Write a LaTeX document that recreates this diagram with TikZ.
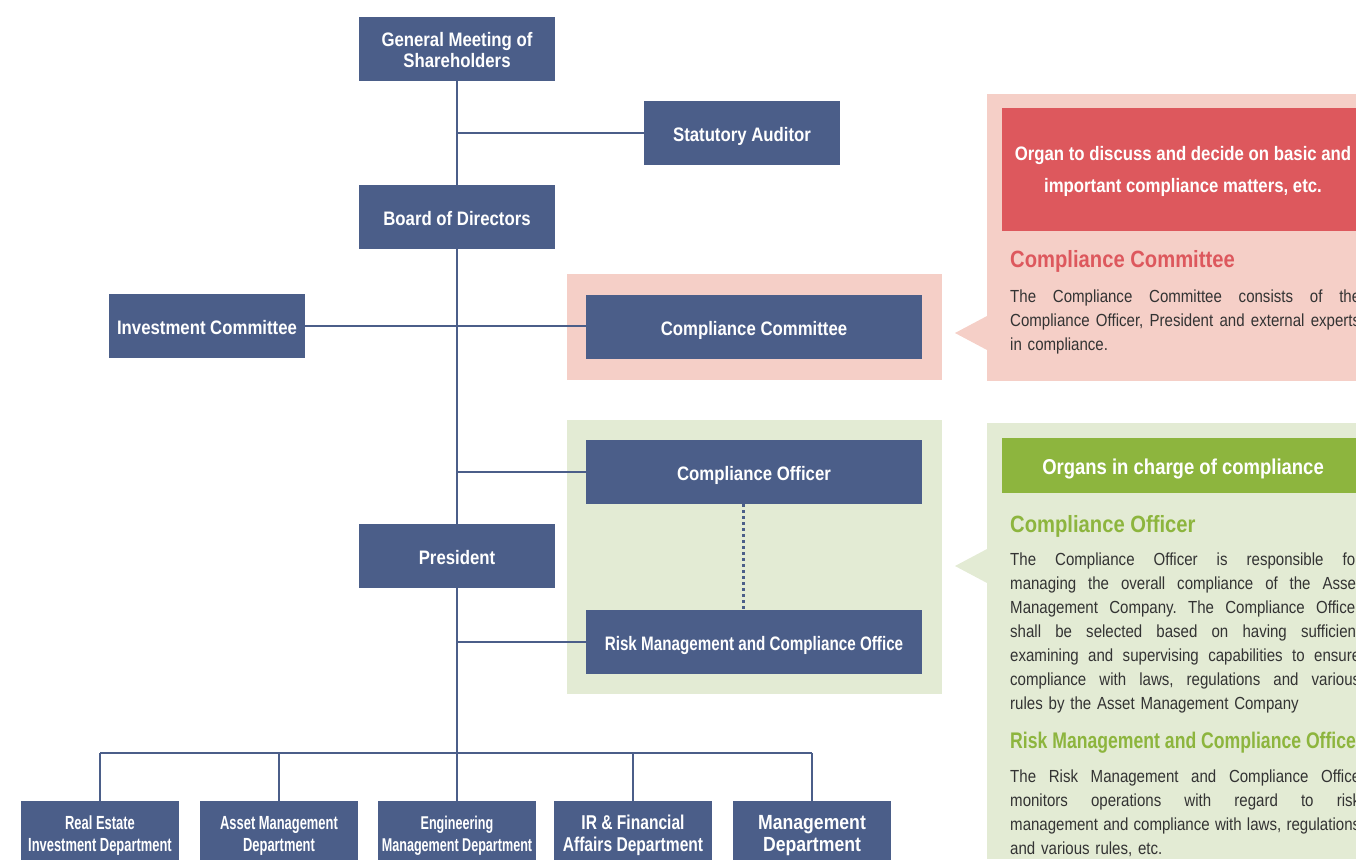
\documentclass[tikz,border=0pt]{standalone}
\usepackage{fontspec}
\setmainfont{Liberation Sans}[FakeStretch=0.86]
\newfontfamily\narrowfont{Liberation Sans}[FakeStretch=0.68]
\newfontfamily\midfont{Liberation Sans}[FakeStretch=0.78]
\usepackage{xcolor}
\usepackage{tikz}
\usetikzlibrary{positioning}

\definecolor{orgblue}{HTML}{4B5E89}
\definecolor{ccpink}{HTML}{F5CFC7}
\definecolor{ccred}{HTML}{DD585D}
\definecolor{cogreen}{HTML}{8DB53E}
\definecolor{colight}{HTML}{E3EBD4}
\definecolor{bodygray}{HTML}{333333}

\def\bodywd{350pt}
\newcommand{\jline}[1]{\leavevmode\hbox to \bodywd{\frenchspacing\spaceskip=0.25em plus 1fil minus 0.08em\relax #1}\\}

\tikzset{
	orgbox/.style={fill=orgblue, text=white, font=\fontsize{19.5}{21}\selectfont\bfseries,
		minimum width=196pt, minimum height=64pt, inner sep=0pt, align=center,
		text height=17pt, text depth=0pt},
	twoline/.style={text height=37pt},
	widebox/.style={orgbox, minimum width=336pt},
	deptbox/.style={orgbox, minimum width=158pt, text height=36pt,
		font=\narrowfont\fontsize{19}{22}\selectfont\bfseries},
	orgline/.style={draw=orgblue, line width=2pt},
	headline/.style={font=\fontsize{23.5}{26}\selectfont\bfseries, anchor=base west, inner sep=0pt},
	bodytext/.style={text=bodygray, font=\fontsize{17.5}{24}\selectfont, anchor=north west,
		inner sep=0pt, align=left, text width=\bodywd},
}

\begin{document}
\begin{tikzpicture}[x=1pt, y=-1pt]
			\useasboundingbox (0,0) rectangle (1356,859);
			\clip (0,0) rectangle (1356,859);
			
			% backgrounds behind the compliance boxes
			\fill [ccpink] (567,274) rectangle (942,380);
			\fill [colight] (567,420) rectangle (942,694);
			
			\node [orgbox, twoline] (gm) at (457,49) {General Meeting of\\Shareholders};
			\node [orgbox] (sa) at (742,133) {Statutory Auditor};
			\node [orgbox] (bd) at (457,217) {Board of Directors};
			\node [orgbox] (ic) at (207,326) {Investment Committee};
			\node [widebox] (cc) at (754,327) {Compliance Committee};
			\node [widebox] (co) at (754,472) {Compliance Officer};
			\node [orgbox] (pr) at (457,556) {President};
			\node [widebox, font=\midfont\fontsize{19.5}{21}\selectfont\bfseries] (rm) at (754,642) {Risk Management and Compliance Office};
			
			\node [deptbox] (d1) at (100,833) {Real Estate\\Investment Department};
			\node [deptbox] (d2) at (279,833) {Asset Management\\Department};
			\node [deptbox, font=\narrowfont\fontsize{18.5}{22}\selectfont\bfseries] (d3) at (457,833) {Engineering\\Management Department};
			\node [deptbox, font=\midfont\fontsize{20}{22}\selectfont\bfseries] (d4) at (633,833) {IR \& Financial\\Affairs Department};
			\node [deptbox, font=\fontsize{20.5}{22}\selectfont\bfseries] (d5) at (812,833) {Management\\Department};
			
			\coordinate (bus) at (457,753);
			
			\draw [orgline] (gm) -- (bd) -- (pr) -- (bus);
			\draw [orgline] (sa.west) -- (sa.west -| gm.south);
			\draw [orgline] (ic.east) -- (cc.west |- ic.east);
			\draw [orgline] (co.west) -- (co.west -| bd.south);
			\draw [orgline] (rm.west) -- (rm.west -| pr.south);
			\draw [orgblue, line width=3pt, dash pattern=on 3pt off 3pt] ([xshift=-11pt]co.south) -- ([xshift=-11pt]rm.north);
			
			\draw [orgline] (d1.north |- bus) -- (d5.north |- bus);
			\foreach \d in {d1,d2,d3,d4,d5}
				\draw [orgline] (\d.north) -- (\d.north |- bus);
			
			% committee panel
			\begin{scope}
				\fill [ccpink] (987,94) rectangle (1370,381);
				\fill [ccpink] (987,316) -- (955,333) -- (987,350) -- cycle;
				\fill [ccred] (1002,108) rectangle (1370,231);
				\node [text=white, align=center, font=\fontsize{19.5}{32}\selectfont\bfseries] (cchead) at (1183,171)
					{Organ to discuss and decide on basic and\\important compliance matters, etc.};
				\node [headline, text=ccred] (cctitle) at (1010,267) {Compliance Committee};
				\node [bodytext] (cctext) at (1010,290)
					{\jline{The Compliance Committee consists of the}\jline{Compliance Officer, President and external experts}in compliance.};
			\end{scope}
			
			% officer panel
			\begin{scope}
				\fill [colight] (987,423) rectangle (1370,859);
				\fill [colight] (987,549) -- (955,566) -- (987,583) -- cycle;
				\fill [cogreen] (1002,438) rectangle (1370,493);
				\node [text=white, font=\fontsize{21.5}{24}\selectfont\bfseries] (cohead) at (1183,469) {Organs in charge of compliance};
				\node [headline, text=cogreen] (cotitle) at (1010,532) {Compliance Officer};
				\node [bodytext] (cotext) at (1010,553)
					{\jline{The Compliance Officer is responsible for}\jline{managing the overall compliance of the Asset}\jline{Management Company. The Compliance Officer}\jline{shall be selected based on having sufficient}\jline{examining and supervising capabilities to ensure}\jline{compliance with laws, regulations and various}rules by the Asset Management Company};
				\node [headline, text=cogreen, font=\midfont\fontsize{22.6}{26}\selectfont\bfseries] (rmtitle) at (1010,748) {Risk Management and Compliance Office};
				\node [bodytext] (rmtext) at (1010,770)
					{\jline{The Risk Management and Compliance Office}\jline{monitors operations with regard to risk}\jline{management and compliance with laws, regulations}and various rules, etc.};
			\end{scope}
		\end{tikzpicture}
\end{document}
